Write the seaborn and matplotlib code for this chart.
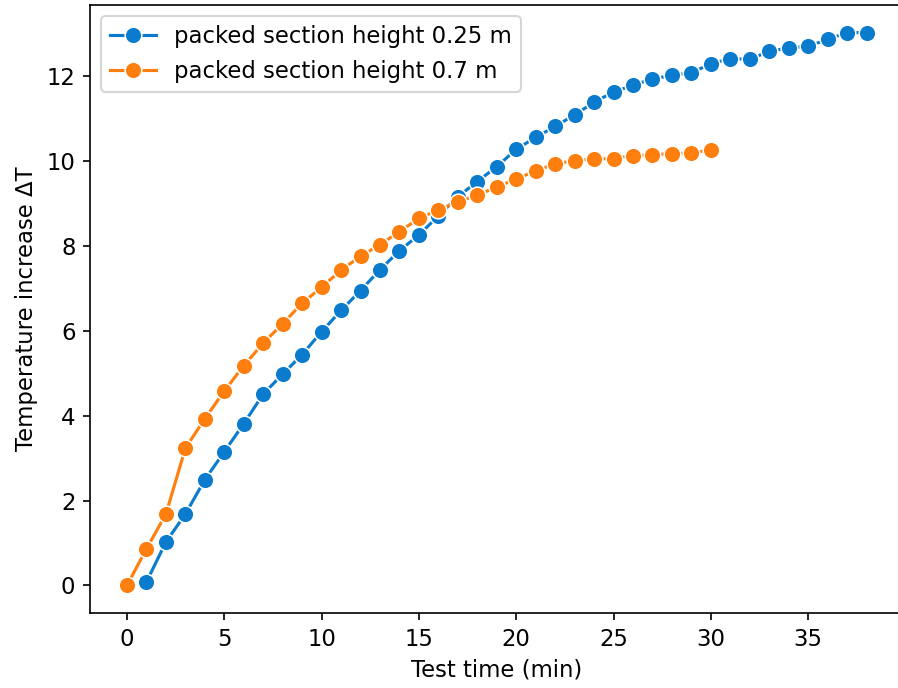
import matplotlib
matplotlib.use('Agg')
import matplotlib.pyplot as plt
import seaborn as sns

# test time (min) and temperature increase for the two packed section heights
time_short = list(range(1, 39))
dT_short = [
    0.08, 1.02, 1.68, 2.49, 3.15, 3.81, 4.51, 4.98, 5.44, 5.98,
    6.48, 6.95, 7.44, 7.89, 8.26, 8.71, 9.16, 9.52, 9.87, 10.28,
    10.56, 10.82, 11.09, 11.39, 11.63, 11.79, 11.94, 12.02, 12.09, 12.29,
    12.42, 12.40, 12.59, 12.67, 12.71, 12.87, 13.03, 13.03,
]

time_tall = list(range(0, 31))
dT_tall = [
    0.0, 0.86, 1.68, 3.23, 3.93, 4.58, 5.18, 5.71, 6.17, 6.65,
    7.03, 7.43, 7.76, 8.03, 8.34, 8.65, 8.85, 9.04, 9.20, 9.39,
    9.58, 9.77, 9.94, 10.01, 10.05, 10.06, 10.13, 10.15, 10.18, 10.19,
    10.27,
]

labels = ['packed section height 0.25 m', 'packed section height 0.7 m']
colors = ['#0a7bcd', '#ff7f0e']

plt.rcParams['font.size'] = 10.9

fig = plt.figure(figsize=(898 / 150, 688 / 150), dpi=150)
ax = fig.add_axes([90 / 898, 1 - 613 / 688, 813.5 / 898, 608 / 688])

line_kws = dict(marker='o', markersize=8, linewidth=1.5, ax=ax)
sns.lineplot(x=time_short, y=dT_short, label=labels[0], color=colors[0], **line_kws)
sns.lineplot(x=time_tall, y=dT_tall, label=labels[1], color=colors[1], **line_kws)

ax.set_xlabel('Test time (min)')
ax.set_ylabel('Temperature increase ΔT')
ax.set_xticks([0, 5, 10, 15, 20, 25, 30, 35])
ax.set_yticks([0, 2, 4, 6, 8, 10, 12])
ax.legend(loc='upper left')

fig.savefig('out.png', dpi=150)
